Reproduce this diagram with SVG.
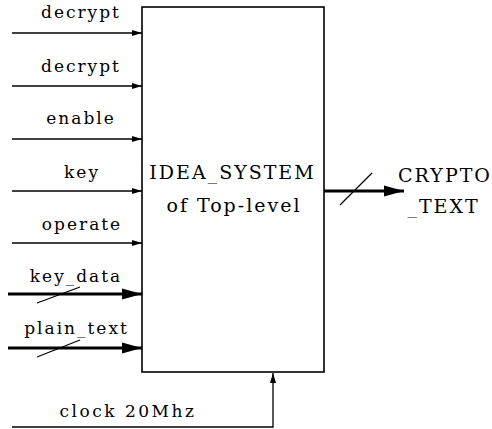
<svg xmlns="http://www.w3.org/2000/svg" width="492" height="429" viewBox="0 0 492 429">
<defs>
<marker id="thin" markerWidth="10" markerHeight="8" refX="10" refY="4" orient="auto" markerUnits="userSpaceOnUse"><path d="M0,1 L10,4 L0,7 Z" fill="#000"/></marker>
<marker id="thick" markerWidth="20" markerHeight="12" refX="20" refY="6" orient="auto" markerUnits="userSpaceOnUse"><path d="M0,0.5 L20,6 L0,11.5 Z" fill="#000"/></marker>
<style>
.w{stroke:#000;stroke-width:1.3;fill:none}
.b{stroke:#000;stroke-width:3;fill:none}
.s{stroke:#000;stroke-width:1.2;fill:none}
text{font-family:"DejaVu Serif",serif;letter-spacing:2px}
.lbl{font-size:17px}
.big{font-size:19px}
</style>
</defs>
<g id="idea_system">
<rect x="142" y="7" width="182" height="365" fill="#fff" stroke="#000" stroke-width="1.6"/>
<text class="big" x="232.5" y="179" text-anchor="middle">IDEA_SYSTEM</text>
<text class="big" x="234" y="212" text-anchor="middle">of Top-level</text>
</g>
<g id="labels">
<text class="lbl" x="81" y="18" text-anchor="middle">decrypt</text>
<text class="lbl" x="81" y="72" text-anchor="middle">decrypt</text>
<text class="lbl" x="81" y="124" text-anchor="middle">enable</text>
<text class="lbl" x="82" y="178" text-anchor="middle">key</text>
<text class="lbl" x="82" y="230" text-anchor="middle">operate</text>
<text class="lbl" x="76" y="282" text-anchor="middle">key_data</text>
<text class="lbl" x="76.5" y="334" text-anchor="middle">plain_text</text>
<text class="lbl" x="128" y="417" text-anchor="middle" style="letter-spacing:2.5px">clock 20Mhz</text>
<text class="big" x="445" y="182" text-anchor="middle">CRYPTO</text>
<text class="big" x="443.5" y="213" text-anchor="middle">_TEXT</text>
</g>
<g id="connectors">
<line class="w" x1="12" y1="33" x2="142" y2="33" marker-end="url(#thin)"/>
<line class="w" x1="12" y1="86" x2="142" y2="86" marker-end="url(#thin)"/>
<line class="w" x1="12" y1="139" x2="142" y2="139" marker-end="url(#thin)"/>
<line class="w" x1="12" y1="191" x2="142" y2="191" marker-end="url(#thin)"/>
<line class="w" x1="12" y1="243" x2="142" y2="243" marker-end="url(#thin)"/>
<line class="b" x1="8" y1="294" x2="142" y2="294" marker-end="url(#thick)"/>
<line class="s" x1="37" y1="303" x2="80" y2="287"/>
<line class="b" x1="8" y1="348" x2="142" y2="348" marker-end="url(#thick)"/>
<line class="s" x1="37" y1="357" x2="80" y2="340"/>
<line class="b" x1="324" y1="191" x2="404" y2="191" marker-end="url(#thick)"/>
<line class="s" x1="340" y1="205" x2="372" y2="173"/>
<polyline class="w" points="12,427 273,427 273,373" marker-end="url(#thin)"/>
</g>
</svg>
